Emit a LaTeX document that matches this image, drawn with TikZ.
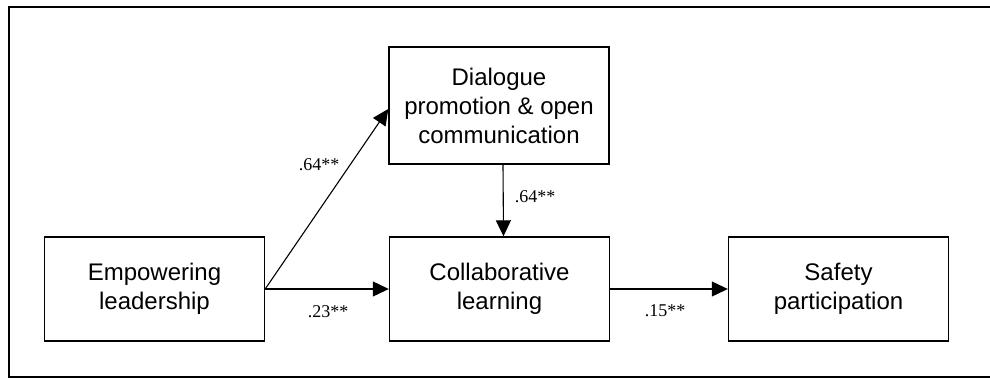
\documentclass[tikz,border=0pt]{standalone}
\usepackage{fontspec}
\setmainfont{Liberation Sans}
\newfontfamily\serifnum{Liberation Serif}
\usetikzlibrary{arrows.meta}
\tikzset{
    box/.style={draw,line width=0.7pt,minimum width=110pt,minimum height=52pt,align=center,font=\fontsize{12}{14.5}\selectfont,inner sep=0pt},
    lbl/.style={font=\serifnum\fontsize{9}{10}\selectfont,inner sep=0pt},
    link/.style={line width=0.55pt,-{Triangle[length=8pt,width=7.5pt]}}
}
\begin{document}
\begin{tikzpicture}[x=0.5pt,y=-0.5pt]
            \useasboundingbox (0,0) rectangle (990,378);
            \draw[line width=0.9pt] (990,7) -- (9,7) -- (9,377) -- (990,377);
            \node[box] (emp) at (154.5,289) {Empowering\\leadership};
            \node[box,minimum height=58.5pt] (dia) at (499,105.5) {Dialogue\\promotion \& open\\communication};
            \node[box] (col) at (499.5,289) {Collaborative\\learning};
            \node[box] (saf) at (838.5,289) {Safety\\participation};
            \coordinate (diain) at ([yshift=-1.75pt]dia.west);
            \draw[link] (emp.east) -- (diain);
            \draw[link] (emp.east) -- (col.west);
            \draw[link] ([xshift=2pt]dia.south) -- ([xshift=2pt]col.north);
            \draw[link] (col.east) -- (saf.west);
            \node[lbl] (l1) at (319,165) {.64**};
            \node[lbl] (l2) at (328,312) {.23**};
            \node[lbl] (l3) at (535,197) {.64**};
            \node[lbl] (l4) at (665,311) {.15**};
        \end{tikzpicture}
\end{document}
